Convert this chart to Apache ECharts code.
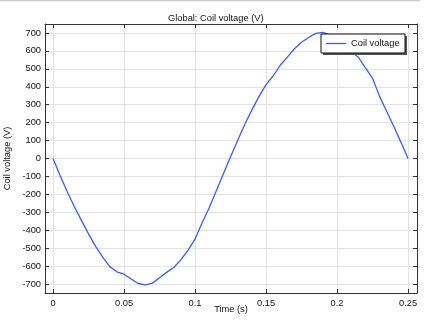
<!DOCTYPE html>
<html><head><meta charset="utf-8">
<script src="https://cdn.jsdelivr.net/npm/echarts@6/dist/echarts.min.js"></script>
<style>html,body{margin:0;padding:0;background:#fff}#c{width:436px;height:321px}</style>
</head><body><div id="c"></div>
<script>
const titleText = "Global: Coil voltage (V)";
const xName = "Time (s)";
const yName = "Coil voltage (V)";
const seriesName = "Coil voltage";
const time = [0,0.005,0.01,0.015,0.02,0.025,0.03,0.035,0.04,0.045,0.05,0.055,0.06,0.065,0.07,0.075,0.08,0.085,0.09,0.095,0.1,0.105,0.11,0.115,0.12,0.125,0.13,0.135,0.14,0.145,0.15,0.155,0.16,0.165,0.17,0.175,0.18,0.185,0.19,0.195,0.2,0.205,0.21,0.215,0.22,0.225,0.23,0.235,0.24,0.245,0.25];
const voltage = [0,-95,-185,-268,-345,-420,-490,-550,-603,-632,-645,-672,-697,-705,-695,-665,-635,-608,-565,-512,-450,-358,-275,-180,-85,10,100,190,270,345,412,460,520,565,612,648,675,698,703,690,668,635,597,565,505,447,345,262,178,90,0];
const xTicks = [0,0.05,0.1,0.15,0.2,0.25];
const yTicks = [-700,-600,-500,-400,-300,-200,-100,0,100,200,300,400,500,600,700];

const font = "Liberation Sans";
const txt = '#111';
const chart = echarts.init(document.getElementById('c'), null, {renderer:'canvas'});
const axisLineStyle = {onZero:false, lineStyle:{color:'#333', width:1}};
const xBase = {
  type:'value', min:-0.00563, max:0.2563,
  axisLine:{show:true, ...axisLineStyle},
  axisTick:{show:true, inside:true, length:4, customValues:xTicks, lineStyle:{color:'#333'}},
  splitLine:{show:false}
};
const yBase = {
  type:'value', min:-750, max:750,
  axisLine:{show:true, ...axisLineStyle},
  axisTick:{show:true, inside:true, length:4, customValues:yTicks, lineStyle:{color:'#333'}},
  splitLine:{show:false}
};
chart.setOption({
  animation:false,
  title:{text:titleText, left:163, top:9, textStyle:{fontFamily:font, fontSize:9.3, fontWeight:'normal', color:txt}},
  grid:{left:45, right:19, top:24, bottom:28, outerBoundsMode:'none', containLabel:false},
  legend:{show:false},
  xAxis:[
    {...xBase, position:'bottom', name:xName, nameLocation:'middle', nameGap:12, nameMoveOverlap:false,
      nameTextStyle:{fontFamily:font, fontSize:9.3, color:txt},
      axisLabel:{show:true, customValues:xTicks, fontFamily:font, fontSize:9.3, color:txt, margin:6,
        formatter:v=>String(+v.toFixed(3))},
      splitLine:{show:true, customValues:xTicks, lineStyle:{color:'#e3e3e3', width:1}}},
    {...xBase, position:'top', axisLabel:{show:false}}
  ],
  yAxis:[
    {...yBase, position:'left', name:yName, nameLocation:'middle', nameGap:33, nameRotate:90, nameMoveOverlap:false,
      nameTextStyle:{fontFamily:font, fontSize:9.3, color:txt},
      axisLabel:{show:true, customValues:yTicks, fontFamily:font, fontSize:9.3, color:txt, margin:4},
      splitLine:{show:true, lineStyle:{color:'#e3e3e3', width:1}}},
    {...yBase, position:'right', axisLabel:{show:false}}
  ],
  series:[{
    name:seriesName, type:'line', data:time.map((t,i)=>[t,voltage[i]]),
    showSymbol:false, symbol:'none', lineStyle:{color:'#3e5cf5', width:1.3}, z:3
  }],
  graphic:[
    {type:'line', shape:{x1:0,y1:0.5,x2:420,y2:0.5}, style:{stroke:'#c8c8c8', lineWidth:1.5}},
    {type:'rect', shape:{x:323,y:36,width:84,height:19}, style:{fill:'#555'}, z:10},
    {type:'rect', shape:{x:321,y:34,width:84,height:19}, style:{fill:'#fff', stroke:'#111', lineWidth:1}, z:11},
    {type:'line', shape:{x1:326,y1:43.5,x2:346,y2:43.5}, style:{stroke:'#3e5cf5', lineWidth:1.3}, z:12},
    {type:'text', x:351, y:43.5, style:{text:seriesName, fontFamily:font, fontSize:9.3, fill:txt, verticalAlign:'middle'}, z:12}
  ]
});
</script></body></html>
